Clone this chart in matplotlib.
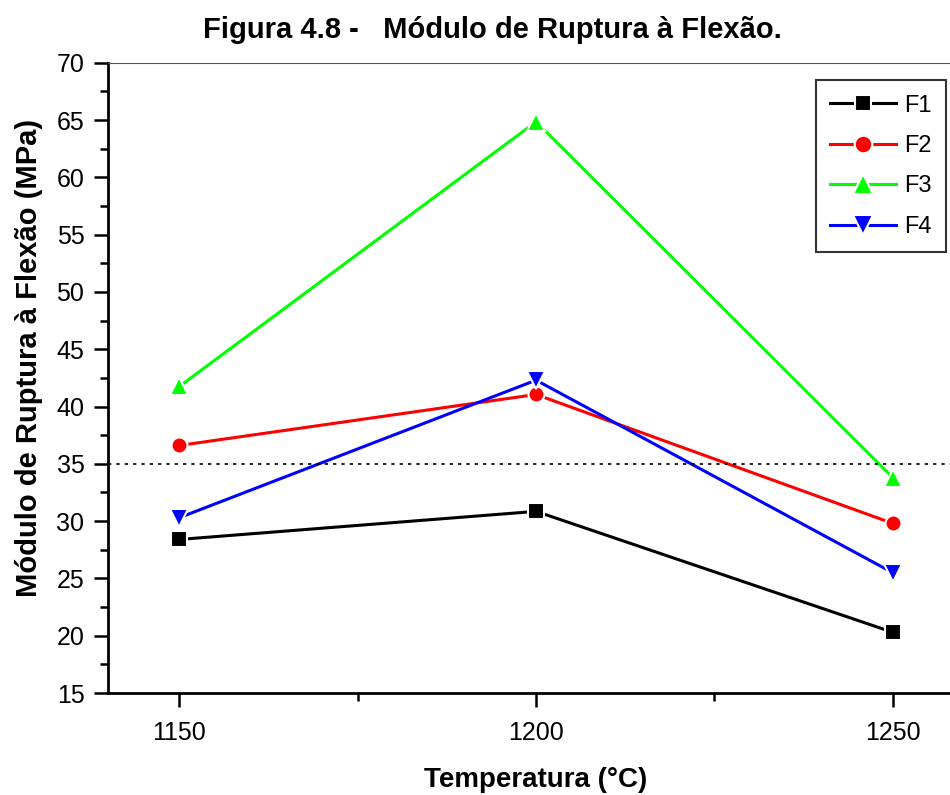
import matplotlib.pyplot as plt
from matplotlib.ticker import MultipleLocator

plt.rcParams['font.family'] = ['Liberation Sans', 'DejaVu Sans']

# temperaturas de queima e módulo de ruptura (MPa)
temperatura = [1150, 1200, 1250]
f1 = [28.4, 30.85, 20.3]
f2 = [36.6, 41.05, 29.8]
f3 = [41.75, 64.85, 33.8]
f4 = [30.3, 42.3, 25.5]
limite = 35

fig = plt.figure(figsize=(9.5, 7.95), dpi=100)
ax = fig.add_axes([0.1137, 0.1283, 0.9011, 0.7928])

estilo = dict(lw=2.2, mec='white', mew=1.5)
ax.plot(temperatura, f1, '-s', color='black', mfc='black', ms=11, label='F1', **estilo)
ax.plot(temperatura, f2, '-o', color='red', mfc='red', ms=11.5, label='F2', **estilo)
ax.plot(temperatura, f3, '-^', color='#00ff00', mfc='#00ff00', ms=13.5, label='F3', **estilo)
ax.plot(temperatura, f4, '-v', color='blue', mfc='blue', ms=13.5, label='F4', **estilo)
ax.axhline(limite, color='black', ls=(0, (2, 3)), lw=1.2)

ax.set_xlim(1140, 1260)
ax.set_ylim(15, 70)
ax.set_xticks(temperatura)
ax.xaxis.set_minor_locator(MultipleLocator(25))
ax.yaxis.set_major_locator(MultipleLocator(5))
ax.yaxis.set_minor_locator(MultipleLocator(2.5))
ax.tick_params(which='major', direction='out', length=10, width=1.8, labelsize=18, pad=7)
ax.tick_params(which='minor', direction='out', length=6, width=1.8)
ax.tick_params(axis='x', which='major', pad=10)

ax.spines['left'].set_linewidth(2)
ax.spines['bottom'].set_linewidth(2)
ax.spines['top'].set_linewidth(0.8)
ax.spines['top'].set_color('#555555')

fig.text(0.564, 0.019, 'Temperatura (°C)', ha='center', va='center', fontsize=20, fontweight='bold')
fig.text(0.031, 0.55, 'Módulo de Ruptura à Flexão (MPa)', ha='center', va='center', rotation=90,
         fontsize=21, fontweight='bold')
fig.text(0.518, 0.962, 'Figura 4.8 -   Módulo de Ruptura à Flexão.', ha='center', va='center',
         fontsize=21, fontweight='bold')

leg = ax.legend(loc='upper right', bbox_to_anchor=(0.979, 0.972), fontsize=17, frameon=True,
                fancybox=False, edgecolor='black', handlelength=2.8, handletextpad=0.35,
                borderpad=0.6, labelspacing=0.78, borderaxespad=0, markerscale=1.1)
leg.get_frame().set_linewidth(1.5)

fig.savefig('out.png', dpi=100)
